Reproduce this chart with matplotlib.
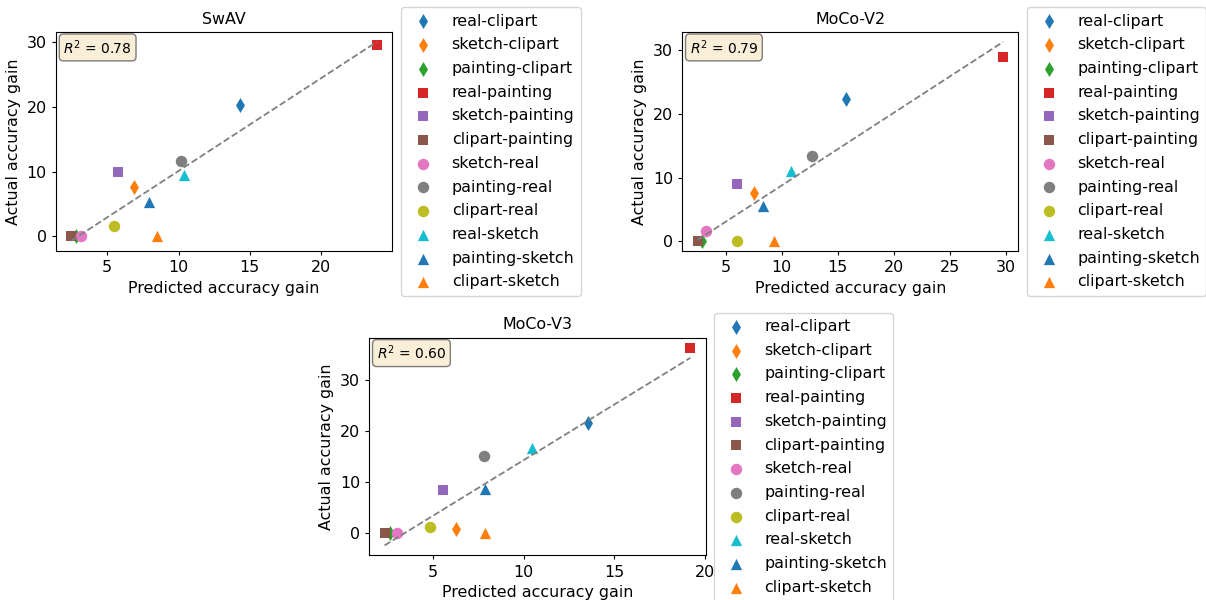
import numpy as np
import matplotlib
matplotlib.use("Agg")
import matplotlib.pyplot as plt

pairs = ["real-clipart", "sketch-clipart", "painting-clipart",
         "real-painting", "sketch-painting", "clipart-painting",
         "sketch-real", "painting-real", "clipart-real",
         "real-sketch", "painting-sketch", "clipart-sketch"]
markers = ["d", "d", "d", "s", "s", "s", "o", "o", "o", "^", "^", "^"]
colors = ["C0", "C1", "C2", "C3", "C4", "C5", "C6", "C7", "C8", "C9", "C0", "C1"]

swav_pred = [14.34, 6.89, 2.83, 23.9, 5.75, 2.48, 3.18, 10.18, 5.47, 10.37, 7.96, 8.52]
swav_act = [20.3, 7.6, 0.0, 29.5, 9.93, 0.0, 0.0, 11.6, 1.6, 9.4, 5.3, 0.0]

mocov2_pred = [15.77, 7.57, 2.87, 29.73, 6.0, 2.51, 3.28, 12.72, 5.98, 10.8, 8.37, 9.35]
mocov2_act = [22.3, 7.49, 0.0, 28.9, 8.96, 0.0, 1.58, 13.34, 0.0, 11.07, 5.5, 0.0]

mocov3_pred = [13.53, 6.27, 2.67, 19.18, 5.57, 2.36, 3.02, 7.82, 4.87, 10.48, 7.9, 7.88]
mocov3_act = [21.5, 0.72, 0.0, 36.3, 8.41, 0.0, 0.0, 15.07, 1.17, 16.6, 8.5, 0.0]

titles = ["SwAV", "MoCo-V2", "MoCo-V3"]
r2_values = ["0.78", "0.79", "0.60"]

# marker area per marker shape (style)
marker_area = {"d": 58, "s": 62, "o": 68, "^": 66}

FS = 11.4
plt.rcParams.update({
    "font.size": FS,
    "xtick.major.size": 3.2,
    "ytick.major.size": 3.2,
})

W, H = 1206, 600
fig = plt.figure(figsize=(W / 100, H / 100), dpi=100)


def rect(left, top, right, bottom):
    return [left / W, 1 - bottom / H, (right - left) / W, (bottom - top) / H]


axes_rects = [rect(56, 32, 392, 250.7), rect(682.3, 32, 1018.3, 251), rect(369.3, 337.7, 705.7, 555.3)]
legend_anchor = [(401 / W, 1 - 7.3 / H), (1026.7 / W, 1 - 7.3 / H), (713.7 / W, 1 - 312.7 / H)]
data = [(swav_pred, swav_act), (mocov2_pred, mocov2_act), (mocov3_pred, mocov3_act)]

for i in range(3):
    ax = fig.add_axes(axes_rects[i])
    xs, ys = data[i]
    for j, name in enumerate(pairs):
        ax.scatter([xs[j]], [ys[j]], marker=markers[j], color=colors[j],
                   s=marker_area[markers[j]], linewidths=0, label=name, zorder=2)
    xa = np.array(xs)
    ya = np.array(ys)
    k, b = np.polyfit(xa, ya, 1)
    xl = np.array([xa.min(), xa.max()])
    ax.plot(xl, k * xl + b, "--", color="gray", lw=1.3, zorder=3)
    ax.set_title(titles[i], fontsize=FS)
    ax.set_xlabel("Predicted accuracy gain", fontsize=FS)
    ax.set_ylabel("Actual accuracy gain", fontsize=FS)
    ax.text(0.022, 0.972, "$R^2$ = " + r2_values[i], transform=ax.transAxes,
            fontsize=10, va="top", ha="left",
            bbox=dict(boxstyle="round", facecolor="wheat", alpha=0.5))
    ax.legend(loc="upper left", bbox_to_anchor=legend_anchor[i],
              bbox_transform=fig.transFigure, borderaxespad=0, fontsize=FS,
              labelspacing=0.55)

fig.savefig("out.png", dpi=100)
